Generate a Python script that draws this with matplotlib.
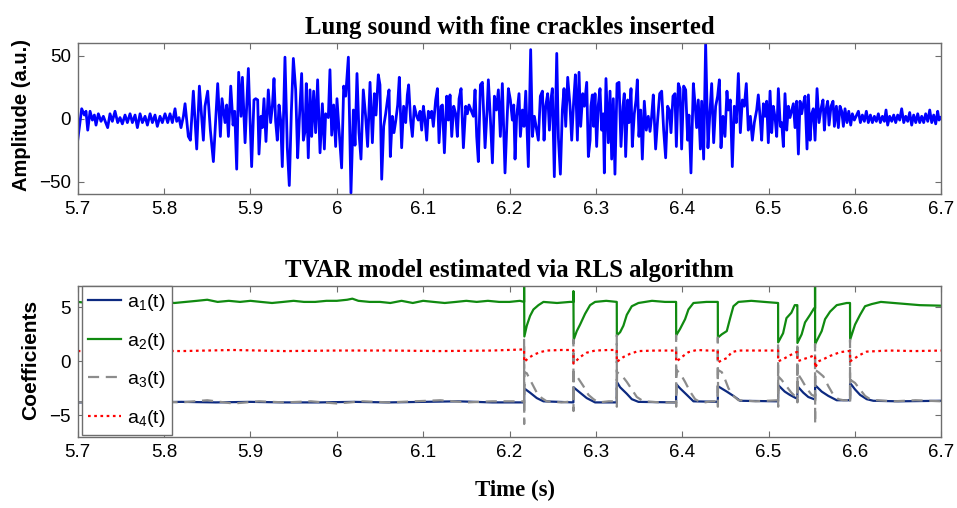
import numpy as np
import matplotlib
matplotlib.use('Agg')
import matplotlib.pyplot as plt
from matplotlib import font_manager

names = {f.name for f in font_manager.fontManager.ttflist}
SANS = 'Liberation Sans Narrow' if 'Liberation Sans Narrow' in names else 'Liberation Sans'
SERIF = 'Liberation Serif'
plt.rcParams['font.family'] = [SANS, 'DejaVu Sans']
plt.rcParams['mathtext.default'] = 'regular'

# ---------------- Top panel: lung sound (extrema) -------------
seg1_t = [5.7000,5.7046,5.7077,5.7096,5.7116,5.7143,5.7170,5.7193,5.7212,5.7239,
          5.7270,5.7297,5.7324,5.7347,5.7374,5.7401,5.7432,5.7463,5.7490,5.7517,
          5.7548,5.7575,5.7606,5.7633,5.7664,5.7691,5.7722,5.7749,5.7780,5.7807,
          5.7838,5.7865,5.7895,5.7922,5.7953,5.7980,5.8011,5.8042,5.8069,5.8096,
          5.8127,5.8146,5.8173,5.8196,5.8224,5.8243,5.8281,5.8305,5.8339,5.8378,
          5.8409,5.8455,5.8474,5.8505,5.8536,5.8571,5.8598,5.8621,5.8652,5.8671,
          5.8706,5.8725,5.8745,5.8772,5.8799,5.8818,5.8841,5.8864,5.8891,5.8907,
          5.8938,5.8976]
seg1_v = [-17,8,3,6,-9,6,-1,3,-5,4,
          -2,2,-3,-7,4,-2,6,-3,1,-4,
          3,-3,4,-3,3,-7,4,-3,2,-5,
          4,-3,3,-6,2,-3,4,-3,4,-3,
          8,-2,1,-7,2,12,-14,-17,22,-24,
          26,-17,10,22,-9,-34,-1,28,-14,16,
          -3,11,-14,26,-5,6,-40,37,2,33,
          -19,40]
seg2_t = [5.9014,5.9041,5.9061,5.9084,5.9099,5.9122,5.9138,5.9157,5.9180,5.9207,
          5.9234,5.9254,5.9273,5.9292,5.9311,5.9331,5.9350,5.9369,5.9400,5.9427,
          5.9450,5.9474,5.9497,5.9524,5.9547,5.9566,5.9593,5.9613,5.9632,5.9647,
          5.9670,5.9690,5.9709,5.9732,5.9755,5.9778,5.9806,5.9833,5.9856,5.9871,
          5.9902,5.9921,5.9941,5.9964,5.9987,6.0002,6.0026,6.0056,6.0080,6.0103,
          6.0134,6.0164,6.0192,6.0211,6.0234,6.0257,6.0280,6.0307,6.0334,6.0357,
          6.0385,6.0412,6.0435,6.0454,6.0481,6.0500,6.0520,6.0543,6.0566,6.0589,
          6.0605,6.0620,6.0643,6.0662,6.0682,6.0705,6.0724,6.0751,6.0774,6.0798,
          6.0817,6.0832,6.0855,6.0875,6.0898,6.0925,6.0944]
seg2_v = [-38,15,16,15,-28,2,-7,16,-18,23,
          -3,10,32,-2,-17,11,-1,-38,49,-23,
          -53,6,48,23,-31,-1,36,-17,-10,28,
          -31,23,-14,22,-11,31,-27,12,-24,4,
          1,39,-13,11,-22,16,-9,-39,26,18,
          49,-59,7,-21,36,-11,-32,23,2,-22,
          29,-19,20,3,35,27,-48,-6,4,16,
          23,-30,2,-11,-2,11,33,-23,10,-3,
          19,27,-1,-14,10,2,-1]
seg3_t = [6.0964,6.0983,6.1003,6.1022,6.1041,6.1060,6.1080,6.1099,6.1118,6.1145,
          6.1165,6.1184,6.1207,6.1223,6.1246,6.1273,6.1292,6.1311,6.1331,6.1354,
          6.1377,6.1396,6.1416,6.1439,6.1466,6.1493,6.1512,6.1531,6.1582,6.1601,
          6.1620,6.1639,6.1663,6.1686,6.1717,6.1740,6.1755,6.1778,6.1802,6.1825,
          6.1848,6.1871,6.1894,6.1917,6.1948,6.1971,6.1987,6.2010,6.2033,6.2049,
          6.2064,6.2083,6.2110,6.2126,6.2149,6.2168,6.2188,6.2218,6.2245,6.2265,
          6.2288,6.2334,6.2357,6.2381,6.2400,6.2419,6.2442,6.2462,6.2481,6.2496,
          6.2519,6.2547,6.2566,6.2589,6.2612,6.2631,6.2651,6.2674,6.2701,6.2720,
          6.2743,6.2763,6.2786,6.2805,6.2824,6.2848,6.2867,6.2894,6.2913,6.2933]
seg3_v = [6,-9,10,-1,-17,6,1,6,-6,15,
          24,-19,10,11,-27,18,-1,19,-14,10,
          4,-14,16,24,-23,10,4,11,2,23,
          -14,-34,27,29,-23,6,31,1,-35,18,
          7,23,-14,28,-43,-2,24,15,-1,11,
          -32,2,20,-14,7,-6,22,-38,55,-14,
          2,-17,18,22,-17,10,20,-9,16,24,
          -46,52,-15,-44,7,24,-6,33,10,-17,
          14,35,-17,37,-6,20,10,29,-30,-17]
seg4_t = [6.2943,6.2959,6.2974,6.2990,6.3009,6.3028,6.3048,6.3067,6.3086,6.3098,
          6.3117,6.3144,6.3164,6.3183,6.3202,6.3221,6.3245,6.3268,6.3291,6.3314,
          6.3329,6.3345,6.3368,6.3384,6.3407,6.3422,6.3445,6.3465,6.3480,6.3499,
          6.3519,6.3538,6.3561,6.3584,6.3607,6.3627,6.3646,6.3665,6.3692,6.3715,
          6.3739,6.3762,6.3785,6.3808,6.3831,6.3851,6.3870,6.3893,6.3916,6.3932,
          6.3955,6.3974,6.3993,6.4017,6.4040,6.4063,6.4078,6.4101,6.4129,6.4148,
          6.4167,6.4186,6.4210,6.4225,6.4248,6.4271,6.4298,6.4318,6.4341,6.4364,
          6.4387,6.4410,6.4430,6.4449,6.4472,6.4495,6.4518,6.4534,6.4557,6.4580,
          6.4603,6.4626,6.4650,6.4673,6.4696,6.4719,6.4742,6.4765,6.4789,6.4812,
          6.4835,6.4862,6.4881,6.4901]
seg4_v = [10,19,-6,20,-22,11,24,-9,4,-43,
          32,-19,22,-32,16,-44,28,29,-22,10,
          20,-30,15,-3,24,-22,4,15,31,-14,
          7,-32,14,-9,2,-10,2,19,-24,-1,
          20,22,-9,-31,10,7,-11,18,20,-22,
          28,24,-24,26,23,-17,3,-43,28,12,
          -7,15,-24,14,-32,60,-23,2,28,-19,
          10,18,31,-23,2,-14,22,7,15,-38,
          10,-3,36,-11,15,10,28,-9,2,-17,
          -3,7,19,2]
seg5_t = [6.4920,6.4940,6.4959,6.4978,6.4997,6.5017,6.5036,6.5055,6.5075,6.5094,
          6.5113,6.5136,6.5152,6.5171,6.5190,6.5210,6.5229,6.5248,6.5287,6.5306,
          6.5325,6.5345,6.5364,6.5383,6.5403,6.5422,6.5445,6.5461,6.5480,6.5499,
          6.5518,6.5538,6.5561,6.5584,6.5607,6.5630,6.5646,6.5661,6.5684,6.5700,
          6.5723,6.5746,6.5762,6.5785,6.5808,6.5827,6.5847,6.5866,6.5885,6.5908,
          6.5928,6.5951,6.5970,6.5993,6.6013,6.6040,6.6063,6.6086,6.6109,6.6132,
          6.6155,6.6179,6.6202,6.6225,6.6248,6.6271,6.6294,6.6318,6.6341,6.6360,
          6.6379,6.6402,6.6426,6.6449,6.6472,6.6495,6.6518,6.6541,6.6565,6.6588,
          6.6611,6.6634,6.6657,6.6680,6.6704,6.6727,6.6750,6.6773,6.6796,6.6819,
          6.6843,6.6866,6.6889,6.6912,6.6935,6.6958,6.6974,6.6993]
seg5_v = [-17,12,2,14,-19,22,-11,10,1,-14,
          24,-6,-3,-22,20,-9,10,1,12,-7,
          14,-28,14,4,12,18,-24,19,-17,4,
          8,-17,24,-3,8,15,-9,6,14,-5,
          10,14,-6,10,-7,10,6,-6,8,-3,
          6,-5,4,-1,2,6,-3,3,-2,6,
          -3,3,-3,2,-2,4,-3,2,-2,7,
          -5,2,-2,3,-3,3,-1,8,-3,2,
          -2,5,-5,3,-3,4,-3,2,-3,4,
          -2,7,-3,3,-4,6,-1,1]

sound_t = np.concatenate([seg1_t, seg2_t, seg3_t, seg4_t, seg5_t])
sound_v = np.concatenate([seg1_v, seg2_v, seg3_v, seg4_v, seg5_v])

# ---------------- Bottom panel: TVAR coefficients (breakpoints) ----
a1_t = [5.700,5.740,5.780,5.820,5.860,5.900,5.940,5.980,6.020,6.060,6.100,6.140,6.180,
        6.2169,6.2170,6.2238,6.2316,6.2393,
        6.2740,6.2741,6.2817,6.2894,6.2991,
        6.3242,6.3243,6.3281,6.3358,6.3416,6.3493,
        6.3929,6.3930,6.3975,6.4053,6.4130,
        6.4412,6.4413,6.4516,6.4593,6.4671,
        6.5110,6.5111,6.5187,6.5245,6.5315,
        6.5333,6.5334,6.5402,6.5460,6.5526,
        6.5538,6.5539,6.5615,6.5692,6.5789,
        6.5943,6.5944,6.6001,6.6059,6.6136,6.6213,6.6500,6.7000]
a1_v = [-3.8,-3.75,-3.8,-3.75,-3.8,-3.75,-3.8,-3.8,-3.75,-3.8,-3.75,-3.7,-3.8,
        -3.8,-2.5,-2.9,-3.4,-3.7,
        -3.8,-2.4,-2.9,-3.4,-3.8,
        -3.8,-1.9,-2.4,-3.0,-3.5,-3.75,
        -3.8,-2.1,-2.5,-3.1,-3.7,
        -3.75,-2.3,-2.8,-3.2,-3.65,
        -3.7,-2.2,-2.8,-3.1,-3.4,
        -3.4,-2.3,-2.9,-3.3,-3.5,
        -3.5,-2.2,-2.8,-3.2,-3.6,
        -3.6,-2.0,-2.6,-3.1,-3.5,-3.65,-3.7,-3.65]

a2_t = [5.700,5.712,5.725,5.738,5.750,5.762,5.775,5.788,5.800,5.812,
        5.825,5.838,5.850,5.862,5.875,5.888,5.900,5.912,5.925,5.938,
        5.950,5.962,5.975,5.988,6.000,6.012,6.018,6.025,6.038,6.050,
        6.062,6.075,6.088,6.100,6.112,6.125,6.138,6.150,6.162,6.175,
        6.188,6.200,6.212,
        6.2169,6.2169,6.2172,6.2200,6.2238,6.2277,6.2335,6.2393,6.2550,6.2700,
        6.2740,6.2740,6.2743,6.2779,6.2817,6.2875,6.2933,6.2991,6.3120,
        6.3242,6.3243,6.3281,6.3319,6.3358,6.3416,6.3493,6.3650,6.3800,
        6.3929,6.3930,6.3975,6.4033,6.4072,6.4130,6.4280,
        6.4412,6.4413,6.4458,6.4516,6.4555,6.4593,6.4651,6.4800,6.4950,
        6.5110,6.5111,6.5168,6.5207,6.5264,6.5303,6.5322,
        6.5333,6.5334,6.5383,6.5422,6.5480,6.5526,
        6.5538,6.5538,6.5539,6.5577,6.5615,6.5654,6.5712,6.5789,6.5905,
        6.5943,6.5944,6.6001,6.6059,6.6117,6.6194,6.6300,6.6450,6.6600,6.6750,6.7000]
a2_v = [5.5,5.4,5.5,5.6,5.5,5.6,5.5,5.6,5.5,5.4,
        5.5,5.6,5.7,5.5,5.6,5.5,5.6,5.5,5.4,5.5,
        5.6,5.5,5.5,5.6,5.6,5.7,5.8,5.6,5.5,5.5,
        5.4,5.6,5.4,5.6,5.5,5.4,5.5,5.6,5.5,5.6,
        5.5,5.5,5.6,
        5.5,7.0,2.3,3.3,4.2,4.8,5.2,5.5,5.4,5.5,
        5.5,6.5,2.0,2.8,3.4,4.4,5.2,5.5,5.6,
        5.5,2.4,2.7,3.3,4.3,5.1,5.4,5.6,5.5,
        5.5,2.4,3.0,3.9,4.8,5.4,5.5,
        5.5,2.2,2.5,2.8,4.0,5.1,5.5,5.6,5.5,
        5.4,1.75,2.6,4.0,4.5,5.2,5.2,
        5.2,1.7,2.5,3.6,4.3,4.9,
        4.9,7.0,1.6,2.2,2.8,3.9,4.6,5.2,5.4,
        5.4,2.0,3.4,4.3,5.1,5.3,5.5,5.4,5.3,5.2,5.15]

a3_t = [5.700,5.730,5.760,5.790,5.820,5.850,5.880,5.910,5.940,5.970,6.000,6.030,
        6.060,6.090,6.120,6.150,6.180,6.2160,
        6.2169,6.2169,6.2170,6.2172,6.2200,6.2238,6.2277,6.2316,6.2374,6.2431,6.2600,
        6.2740,6.2740,6.2741,6.2743,6.2798,6.2856,6.2914,6.2972,6.3030,6.3150,
        6.3242,6.3242,6.3243,6.3245,6.3300,6.3358,6.3416,6.3474,6.3551,6.3750,
        6.3929,6.3929,6.3930,6.3932,6.3975,6.4033,6.4091,6.4149,6.4226,6.4330,
        6.4412,6.4412,6.4413,6.4415,6.4458,6.4497,6.4536,6.4593,6.4651,6.4850,
        6.5110,6.5110,6.5111,6.5113,6.5149,6.5207,6.5264,6.5315,
        6.5333,6.5333,6.5334,6.5335,6.5383,6.5441,6.5499,6.5526,
        6.5538,6.5538,6.5539,6.5540,6.5577,6.5635,6.5692,6.5750,6.5808,6.5866,
        6.5943,6.5943,6.5944,6.5945,6.6001,6.6059,6.6117,6.6175,6.6252,6.6450,6.6700,6.7000]
a3_v = [-3.8,-3.7,-3.8,-3.7,-3.8,-3.6,-3.9,-3.7,-3.8,-3.7,-3.9,-3.7,
        -3.8,-3.7,-3.6,-3.8,-3.7,-3.7,
        -3.7,2.0,-5.8,-1.0,-1.1,-1.7,-2.3,-2.9,-3.4,-3.7,-3.8,
        -3.7,2.0,-4.6,-1.0,-1.6,-2.3,-3.1,-3.5,-3.8,-3.7,
        -3.7,2.4,-4.2,-1.0,-1.3,-1.9,-2.6,-3.3,-3.7,-3.8,
        -3.8,2.4,-4.2,-0.8,-1.1,-1.9,-2.8,-3.5,-3.85,-3.7,
        -3.7,2.2,-4.2,-0.8,-1.0,-1.7,-2.5,-3.2,-3.6,-3.7,
        -3.6,1.75,-4.2,-1.4,-1.7,-2.3,-2.9,-3.3,
        -3.3,1.7,-3.8,-1.1,-1.7,-2.5,-3.1,-3.2,
        -3.2,1.6,-5.8,-0.8,-1.0,-1.4,-2.3,-3.1,-3.5,-3.6,
        -3.6,2.0,-3.9,-1.7,-2.0,-2.6,-3.2,-3.5,-3.6,-3.7,-3.6,-3.7]

a4_t = [5.700,5.760,5.820,5.880,5.940,6.000,6.060,6.120,6.180,6.2160,
        6.2169,6.2170,6.2219,6.2277,6.2354,6.2431,6.2600,
        6.2740,6.2741,6.2817,6.2894,6.2991,6.3150,
        6.3242,6.3243,6.3319,6.3396,6.3493,6.3700,
        6.3929,6.3930,6.3995,6.4072,6.4168,6.4300,
        6.4412,6.4413,6.4458,6.4516,6.4574,6.4651,6.4900,
        6.5110,6.5111,6.5168,6.5245,6.5322,
        6.5333,6.5334,6.5402,6.5480,6.5526,
        6.5538,6.5539,6.5577,6.5635,6.5712,6.5828,6.5924,
        6.5943,6.5944,6.6001,6.6059,6.6136,6.6400,6.6700,6.7000]
a4_v = [0.95,1.0,0.95,1.05,0.95,1.0,1.0,0.95,1.0,1.1,
        1.1,-0.05,0.3,0.6,0.85,1.0,1.05,
        1.05,-0.2,0.4,0.8,1.0,1.05,
        1.05,-0.05,0.4,0.7,0.95,1.0,
        1.0,-0.05,0.4,0.85,1.05,1.0,
        1.0,-0.1,0.1,0.3,0.85,1.0,1.0,
        1.0,0.0,0.2,0.55,0.85,
        0.85,0.0,0.2,0.4,0.55,
        0.55,-0.6,0.0,0.2,0.5,0.85,0.95,
        0.95,0.0,0.3,0.6,0.9,1.0,0.95,1.0]

xticks = [5.7, 5.8, 5.9, 6.0, 6.1, 6.2, 6.3, 6.4, 6.5, 6.6, 6.7]
xtick_labels = ['5.7', '5.8', '5.9', '6', '6.1', '6.2', '6.3', '6.4', '6.5', '6.6', '6.7']
top_yticks = [-50, 0, 50]
bot_yticks = [-5, 0, 5]
legend_labels = ['a$_1$(t)', 'a$_2$(t)', 'a$_3$(t)', 'a$_4$(t)']

# ---------------- Figure -------------------------------------------------------------
fig = plt.figure(figsize=(9.57, 5.08), dpi=100)
ax1 = fig.add_axes([0.0812, 0.6175, 0.9024, 0.2972])
ax2 = fig.add_axes([0.0812, 0.1398, 0.9024, 0.2978])

SPINE = '#6e6e6e'
for ax in (ax1, ax2):
    for s in ax.spines.values():
        s.set_color(SPINE)
        s.set_linewidth(1.0)
    ax.set_xlim(5.7, 6.7)
    ax.set_xticks(xticks)
    ax.set_xticklabels(xtick_labels)
    ax.tick_params(direction='in', top=True, right=True, length=4.5, width=0.8,
                   color=SPINE, labelsize=13.5, labelcolor='black', pad=5)

ax1.plot(sound_t, sound_v, color='#0000ff', lw=2.0, solid_joinstyle='round')
ax1.set_ylim(-60, 60)
ax1.set_yticks(top_yticks)
ax1.set_title('Lung sound with fine crackles inserted', family=SERIF,
              fontweight='bold', fontsize=17.8, pad=7)

l1, = ax2.plot(a1_t, a1_v, color='#0d2a80', lw=1.6)
l2, = ax2.plot(a2_t, a2_v, color='#108a10', lw=1.6)
l3, = ax2.plot(a3_t, a3_v, color='#8c8c8c', lw=1.6, linestyle=(0, (5, 3)))
l4, = ax2.plot(a4_t, a4_v, color='#ff0000', lw=1.6, linestyle=(0, (1.2, 1.6)))
ax2.set_ylim(-7, 7)
ax2.set_yticks(bot_yticks)
ax2.set_title('TVAR model estimated via RLS algorithm', family=SERIF,
              fontweight='bold', fontsize=17.8, pad=6)

leg = ax2.legend([l1, l2, l3, l4], legend_labels, loc='upper left',
                 bbox_to_anchor=(0.005, 1.0), borderaxespad=0, fontsize=14,
                 handlelength=1.7, handletextpad=0.3, labelspacing=0.9,
                 borderpad=0.33, fancybox=False, framealpha=1.0,
                 edgecolor=SPINE)
leg.get_frame().set_linewidth(1.0)

fig.text(0.022, 0.773, 'Amplitude (a.u.)', rotation=90, ha='center', va='center',
         fontsize=14.5, fontweight='bold')
fig.text(0.0325, 0.292, 'Coefficients', rotation=90, ha='center', va='center',
         fontsize=15, fontweight='bold')
fig.text(0.5385, 0.035, 'Time (s)', ha='center', va='center', family=SERIF,
         fontsize=16.5, fontweight='bold')

fig.savefig('out.png', dpi=100)
